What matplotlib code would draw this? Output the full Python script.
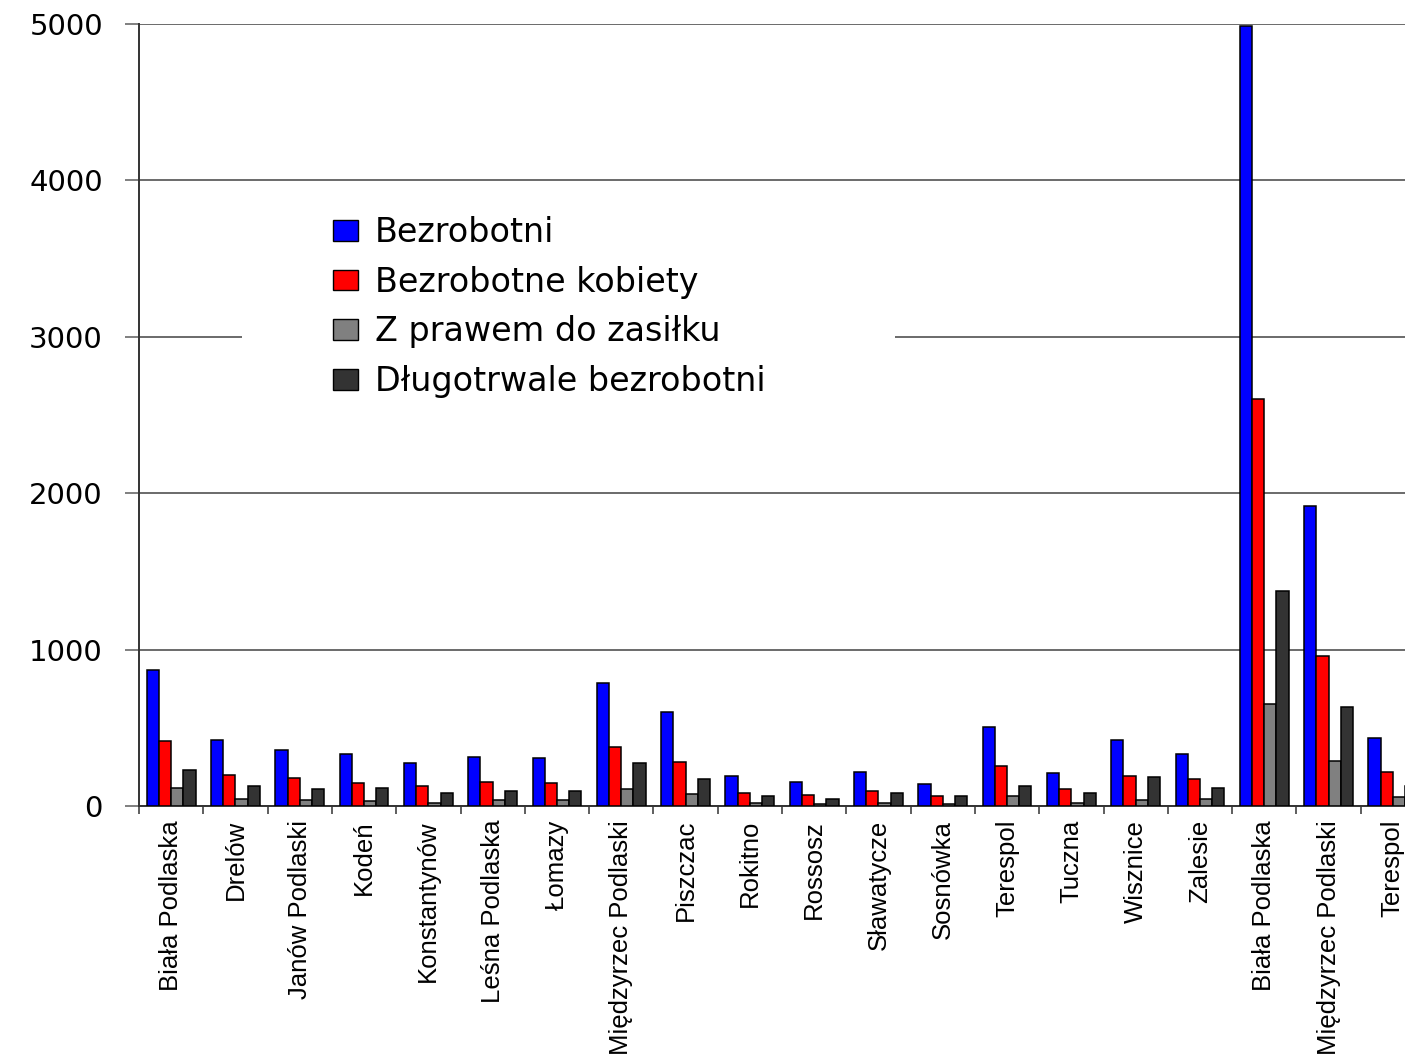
import numpy as np
import matplotlib
matplotlib.use("Agg")
import matplotlib.pyplot as plt
from matplotlib import font_manager
from matplotlib.patches import Rectangle

# gminy / miasta
towns = ["Biała Podlaska", "Drelów", "Janów Podlaski", "Kodeń", "Konstantynów",
         "Leśna Podlaska", "Łomazy", "Międzyrzec Podlaski", "Piszczac", "Rokitno",
         "Rossosz", "Sławatycze", "Sosnówka", "Terespol", "Tuczna", "Wisznice",
         "Zalesie", "Biała Podlaska", "Międzyrzec Podlaski", "Terespol"]

bezrobotni = [871, 423, 359, 334, 274, 312, 304, 788, 604, 195,
              155, 219, 142, 508, 210, 423, 334, 4985, 1920, 434]
kobiety = [414, 201, 180, 148, 131, 155, 148, 376, 283, 84,
           69, 93, 61, 257, 107, 195, 171, 2602, 961, 215]
zasilek = [116, 46, 40, 29, 20, 40, 40, 107, 78, 20,
           10, 20, 14, 63, 20, 40, 46, 655, 285, 55]
dlugotrwale = [227, 131, 107, 116, 84, 93, 93, 274, 171, 61,
               46, 84, 61, 131, 84, 187, 116, 1375, 630, 130]

series_names = ["Bezrobotni", "Bezrobotne kobiety", "Z prawem do zasiłku",
                "Długotrwale bezrobotni"]
series_colors = ["#0000ff", "#ff0000", "#808080", "#333333"]
yticks = [0, 1000, 2000, 3000, 4000, 5000]

# narrow font for the rotated labels if it is there
installed = {f.name for f in font_manager.fontManager.ttflist}
if "Liberation Sans Narrow" in installed:
    label_font, label_size = "Liberation Sans Narrow", 22.5
else:
    label_font, label_size = "Liberation Sans", 18.5

W, H = 1405, 1058
fig = plt.figure(figsize=(W / 100, H / 100), dpi=100)
# plot area runs past the right edge, last group is cut like in the source
ax = fig.add_axes([139 / W, 1 - 806 / H, 1286 / W, 782 / H])

x = np.arange(len(towns)) + 0.5
bw = 0.19
for k, (vals, name, col) in enumerate(zip([bezrobotni, kobiety, zasilek, dlugotrwale],
                                           series_names, series_colors)):
    ax.bar(x + (k - 1.5) * bw, vals, bw, color=col, edgecolor="black",
           linewidth=1.1, label=name, zorder=3)

ax.set_xlim(0, len(towns))
ax.set_ylim(0, 5000)
ax.set_yticks(yticks)
ax.set_yticklabels([str(v) for v in yticks], fontsize=21, family="DejaVu Sans")
ax.yaxis.grid(True, color="#6a6a6a", linewidth=1.4)
ax.set_axisbelow(True)

ax.set_xticks(x)
ax.set_xticklabels(towns, rotation=90, family=label_font, fontsize=label_size,
                   va="top", ha="center")
ax.set_xticks(np.arange(len(towns) + 1), minor=True)
ax.tick_params(axis="x", which="major", length=0, pad=10)
ax.tick_params(axis="x", which="minor", length=6, width=1.1, color="#333333")
ax.tick_params(axis="y", length=10, width=1.2, color="#6a6a6a", pad=16)

for side in ["top", "right"]:
    ax.spines[side].set_visible(False)
ax.spines["left"].set_color("#333333")
ax.spines["left"].set_linewidth(1.4)
ax.spines["bottom"].set_color("#333333")
ax.spines["bottom"].set_linewidth(1.4)

# white block behind the legend (hides the 3000 gridline there)
ax.add_patch(Rectangle(((242 - 139) / 1286, (806 - 405) / 782),
                       (895 - 242) / 1286, 205 / 782, transform=ax.transAxes,
                       facecolor="white", edgecolor="none", zorder=1))

leg = ax.legend(loc="upper left", bbox_to_anchor=(333 / W, 1 - 216 / H),
                bbox_transform=fig.transFigure, frameon=False,
                prop={"family": "DejaVu Sans", "size": 24},
                handlelength=0.75, handleheight=0.58, handletextpad=0.5,
                labelspacing=0.5, borderpad=0, borderaxespad=0)
for p in leg.get_patches():
    p.set_linewidth(1.0)
leg.set_zorder(5)

fig.savefig("out.png", dpi=100)
